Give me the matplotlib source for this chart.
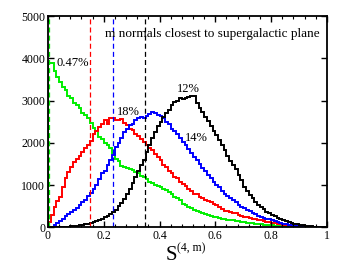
import matplotlib
matplotlib.use('Agg')
import matplotlib.pyplot as plt
import numpy as np
from matplotlib.ticker import MultipleLocator

plt.rcParams['font.family'] = ['Liberation Serif', 'DejaVu Serif']

# bin edges of S^(4,m), 100 bins of 0.01
edges = np.linspace(0.0, 1.0, 101)

green = [3900, 3880, 3700, 3560, 3450, 3330, 3250, 3100, 3050, 2950,
         2900, 2820, 2700, 2650, 2580, 2480, 2350, 2280, 2150, 2100,
         2000, 1950, 1870, 1750, 1620, 1560, 1450, 1430, 1400, 1390,
         1350, 1320, 1280, 1220, 1190, 1150, 1080, 1060, 1010, 990,
         950, 920, 880, 840, 800, 720, 700, 650, 560, 520,
         490, 460, 410, 400, 370, 340, 320, 300, 270, 250,
         240, 220, 210, 200, 180, 170, 165, 150, 140, 130,
         125, 110, 100, 95, 85, 80, 70, 65, 60, 55,
         50, 45, 40, 35, 30, 28, 25, 20, 18, 15,
         12, 10, 8, 6, 5, 4, 3, 2, 1, 0]

red = [120, 300, 480, 620, 720, 950, 1160, 1300, 1430, 1540,
       1620, 1700, 1780, 1880, 1960, 2050, 2200, 2280, 2380, 2450,
       2550, 2450, 2580, 2600, 2550, 2530, 2560, 2480, 2420, 2340,
       2300, 2200, 2160, 2080, 2020, 1960, 1870, 1820, 1740, 1660,
       1600, 1480, 1430, 1330, 1280, 1190, 1160, 1080, 1020, 990,
       920, 860, 800, 780, 720, 690, 660, 620, 590, 560,
       520, 480, 440, 400, 380, 360, 340, 330, 300, 270,
       245, 250, 230, 210, 200, 180, 165, 150, 135, 125,
       110, 95, 85, 75, 65, 55, 47, 40, 33, 27,
       22, 18, 14, 10, 8, 6, 4, 3, 2, 1]

blue = [0, 20, 60, 110, 160, 210, 260, 310, 360, 410,
        460, 520, 590, 660, 740, 810, 900, 1000, 1150, 1280,
        1330, 1470, 1600, 1720, 1900, 2000, 2120, 2250, 2320, 2420,
        2450, 2530, 2600, 2620, 2600, 2640, 2680, 2720, 2700, 2660,
        2640, 2600, 2500, 2450, 2330, 2280, 2200, 2110, 2010, 1940,
        1850, 1760, 1660, 1600, 1500, 1400, 1340, 1240, 1160, 1080,
        1010, 950, 870, 800, 740, 700, 640, 590, 540, 490,
        450, 420, 390, 340, 310, 280, 250, 230, 210, 190,
        165, 140, 120, 105, 90, 78, 68, 55, 45, 38,
        30, 24, 19, 14, 10, 7, 5, 3, 2, 1]

black = [0, 2, 4, 6, 8, 12, 15, 20, 25, 32,
         40, 50, 60, 75, 90, 110, 130, 150, 180, 210,
         240, 270, 310, 360, 420, 500, 580, 680, 790, 920,
         1060, 1200, 1330, 1480, 1600, 1790, 1950, 2120, 2250, 2400,
         2500, 2620, 2700, 2780, 2900, 2960, 3000, 3050, 3040, 3060,
         3080, 3100, 3100, 2950, 2820, 2720, 2620, 2520, 2400, 2290,
         2180, 2070, 1960, 1820, 1690, 1580, 1480, 1390, 1250, 1120,
         960, 870, 770, 690, 610, 540, 490, 430, 370, 330,
         290, 260, 225, 200, 170, 145, 125, 105, 90, 80,
         68, 50, 40, 30, 22, 16, 10, 6, 3, 1]

# observed values (dashed lines)
obs = {'green': 0.005, 'red': 0.15, 'blue': 0.233, 'black': 0.347}
colors = {'green': '#00ee00', 'red': '#ff0000', 'blue': '#0000ff', 'black': '#000000'}
series = {'green': green, 'red': red, 'blue': blue, 'black': black}

fig = plt.figure(figsize=(3.58, 2.77), dpi=100)
ax = fig.add_axes([0.134, 0.179, 0.779, 0.763])

for name in ['green', 'red', 'blue', 'black']:
    ax.stairs(series[name], edges, color=colors[name], lw=1.4)
    ax.axvline(obs[name], color=colors[name], lw=0.9, ls=(0, (4, 2.5)))

ax.set_xlim(0, 1)
ax.set_ylim(0, 5000)
ax.xaxis.set_minor_locator(MultipleLocator(0.04))
ax.yaxis.set_major_locator(MultipleLocator(1000))
ax.set_xticks([0, 0.2, 0.4, 0.6, 0.8, 1.0])
ax.set_xticklabels(['0', '0.2', '0.4', '0.6', '0.8', '1'])
ax.tick_params(which='both', direction='in', top=True, right=True, labelsize=8.5, pad=2)
ax.tick_params(which='major', length=4, width=1)
ax.tick_params(which='minor', length=2, width=0.8)
for sp in ax.spines.values():
    sp.set_linewidth(1.3)

fs = 9
ax.text(0.975, 0.915, 'm normals closest to supergalactic plane', transform=ax.transAxes,
        ha='right', va='center', fontsize=9.5)
ax.text(0.032, 3900, '0.47%', ha='left', va='center', fontsize=fs)
ax.text(0.287, 2720, '18%', ha='center', va='center', fontsize=fs)
ax.text(0.503, 3280, '12%', ha='center', va='center', fontsize=fs)
ax.text(0.532, 2120, '14%', ha='center', va='center', fontsize=fs)

# axis label S^(4, m)
fig.text(0.479, 0.061, 'S', fontsize=15, ha='center', va='baseline')
fig.text(0.494, 0.092, '(4, m)', fontsize=8.5, ha='left', va='baseline')

fig.savefig('out.png', dpi=100)
